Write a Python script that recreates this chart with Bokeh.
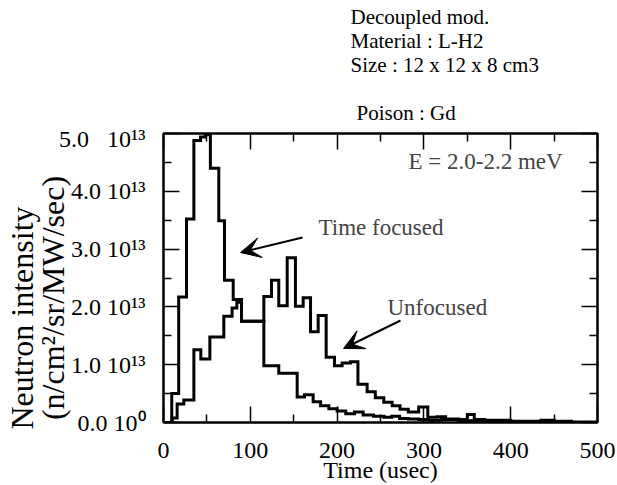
import math
from bokeh.plotting import figure
from bokeh.layouts import column
from bokeh.models import (Range1d, FixedTicker, LinearAxis, Label, Arrow, VeeHead,
                          CustomJSTickFormatter)
from bokeh.embed import file_html
from bokeh.resources import INLINE

# ---------------- data (intensity in units of 1e13 n/cm2/sr/MW/sec) ----------------
tf_edges = [0, 9.5, 17.5, 26.5, 35, 42.6, 48, 54, 63.7, 70.3, 80.3, 89.9, 115.6, 132.8,
            154, 162.4, 172.4, 181, 190.5, 200, 210, 220, 230, 242, 254, 263, 272, 282,
            294, 305, 320, 340, 360, 380, 400, 420, 500]
tf_values = [0, 0.50, 2.17, 3.52, 4.88, 4.94, 4.98, 4.40, 3.49, 2.46, 2.13, 1.75, 0.98,
             0.85, 0.44, 0.48, 0.36, 0.29, 0.24, 0.20, 0.15, 0.18, 0.13, 0.11, 0.09, 0.11,
             0.07, 0.06, 0.05, 0.04, 0.05, 0.03, 0.02, 0.02, 0.01, 0.0]

uf_edges = [0, 10, 15.7, 23.4, 35, 43, 53.4, 69.5, 79, 84.5, 89.9, 115.6, 124.4, 132.8,
            142.5, 152, 160.9, 169.4, 178.2, 187.4, 197, 205.8, 215.4, 224, 234.6, 244,
            253.8, 263.4, 272.5, 282, 294, 304.5, 315, 325, 340, 350, 358, 370, 400, 435,
            450, 470, 500]
uf_values = [0, 0.08, 0.32, 0.39, 1.26, 1.10, 1.48, 1.84, 1.98, 2.08, 1.75, 2.18, 2.46,
             2.02, 2.85, 2.01, 2.16, 1.57, 1.85, 1.13, 0.98, 1.03, 1.05, 0.66, 0.53, 0.43,
             0.35, 0.29, 0.23, 0.18, 0.27, 0.09, 0.10, 0.06, 0.05, 0.14, 0.05, 0.04, 0.02,
             0.04, 0.02, 0.01]

x_ticks = [0, 100, 200, 300, 400, 500]
x_tick_labels = ["0", "100", "200", "300", "400", "500"]
y_ticks = [0, 1, 2, 3, 4, 5]
NB = "\u00a0"
y_tick_labels = ["0.0" + NB + "10\u2070",
                 "1.0" + NB + "10\u00b9\u00b3",
                 "2.0" + NB + "10\u00b9\u00b3",
                 "3.0" + NB + "10\u00b9\u00b3",
                 "4.0" + NB + "10\u00b9\u00b3",
                 "5.0" + NB * 3 + "10\u00b9\u00b3"]

header_lines = ["Decoupled mod.", "Material : L-H2", "Size : 12 x 12 x 8 cm3", "Poison : Gd"]
y_title_lines = ["Neutron intensity" + NB * 10, "(n/cm\u00b2/sr/MW/sec)" + NB * 5]

# ---------------- layout ----------------
W, H = 617, 485
HEAD = 125                      # height of the header strip above the chart
FL, FR, FT, FB = 163, 597, 133, 422
XMAX, YMAX = 500, 5
FONT = "Liberation Serif"
header_pos = [(350, 16), (350, 40), (350, 64), (356, 112)]   # pixel anchors


def dx(px):
    return (px - FL) / (FR - FL) * XMAX


def dy(py):
    return (FB - py) / (FB - FT) * YMAX


def step_path(edges, vals):
    xs, ys = [], []
    for i, v in enumerate(vals):
        xs += [edges[i], edges[i + 1]]
        ys += [v, v]
    return xs, ys


# ---------------- header strip (its frame is aligned with the chart frame) ----------------
head = figure(width=W, height=HEAD, x_range=Range1d(FL, FR), y_range=Range1d(HEAD, 0),
              output_backend="svg", toolbar_location=None, title_location=None,
              x_axis_type=None, y_axis_type=None, min_border=0)
head.grid.visible = False
head.outline_line_color = None
head.background_fill_color = "white"
head.border_fill_color = "white"
for t, (px, py) in zip(header_lines, header_pos):
    head.add_layout(Label(x=px, y=py, text=t, text_font=FONT, text_font_size="21px",
                          text_align="left", text_baseline="middle", text_color="black"))

# ---------------- main chart ----------------
p = figure(width=W, height=H - HEAD, x_range=Range1d(0, XMAX), y_range=Range1d(0, YMAX),
           output_backend="svg", toolbar_location=None, title_location=None,
           min_border_left=FL, min_border_right=W - FR,
           min_border_top=FT - HEAD, min_border_bottom=H - FB)
p.grid.visible = False
p.background_fill_color = "white"
p.border_fill_color = "white"
p.outline_line_color = "black"
p.outline_line_width = 2

x_minor = [(a + b) / 2 for a, b in zip(x_ticks[:-1], x_ticks[1:])]
y_minor = [(a + b) / 2 for a, b in zip(y_ticks[:-1], y_ticks[1:])]


def style_axis(ax, size="24px"):
    ax.axis_line_color = "black"
    ax.axis_line_width = 2
    ax.major_tick_in = 16
    ax.major_tick_out = 0
    ax.minor_tick_in = 8
    ax.minor_tick_out = 0
    ax.major_tick_line_width = 1.5
    ax.minor_tick_line_width = 1.5
    ax.major_tick_line_color = "black"
    ax.minor_tick_line_color = "black"
    ax.major_label_text_font = FONT
    ax.major_label_text_font_size = size
    ax.major_label_text_color = "black"
    ax.axis_label_text_font = FONT
    ax.axis_label_text_font_style = "normal"
    ax.axis_label_text_color = "black"


xa = p.xaxis[0]
xa.ticker = FixedTicker(ticks=x_ticks, minor_ticks=x_minor)
xa.major_label_overrides = {t: l for t, l in zip(x_ticks, x_tick_labels)}
style_axis(xa)
xa.major_label_standoff = 20
xa.axis_label = "Time (usec)"
xa.axis_label_text_font_size = "24px"
xa.axis_label_text_line_height = 0.8
xa.axis_label_standoff = -4

ya = p.yaxis[0]
ya.ticker = FixedTicker(ticks=y_ticks, minor_ticks=y_minor)
ya.major_label_overrides = {t: l for t, l in zip(y_ticks, y_tick_labels)}
style_axis(ya)
ya.major_label_standoff = 18
ya.axis_label = "\n".join(y_title_lines)
ya.axis_label_text_font_size = "32px"
ya.axis_label_text_line_height = 0.875
ya.axis_label_standoff = -15

blank = CustomJSTickFormatter(code="return '';")
top = LinearAxis(ticker=FixedTicker(ticks=x_ticks, minor_ticks=x_minor), formatter=blank)
style_axis(top, "1px")
top.major_label_standoff = 0
p.add_layout(top, "above")
right = LinearAxis(ticker=FixedTicker(ticks=y_ticks, minor_ticks=y_minor), formatter=blank)
style_axis(right, "1px")
right.major_label_standoff = 0
p.add_layout(right, "right")

# ---------------- curves ----------------
xs, ys = step_path(tf_edges, tf_values)
p.line(xs, ys, line_width=3, color="black", line_join="miter")
xs, ys = step_path(uf_edges, uf_values)
p.line(xs, ys, line_width=3, color="black", line_join="miter")

# ---------------- texts inside the frame ----------------
p.add_layout(Label(x=dx(408), y=dy(161), text="E = 2.0-2.2 meV", text_font=FONT,
                   text_font_size="23px", text_align="left", text_baseline="middle"))
p.add_layout(Label(x=dx(318), y=dy(227), text="Time focused", text_font=FONT,
                   text_font_size="23px", text_align="left", text_baseline="middle"))
p.add_layout(Label(x=dx(387), y=dy(307), text="Unfocused", text_font=FONT,
                   text_font_size="23px", text_align="left", text_baseline="middle"))

# ---------------- arrows ----------------
p.add_layout(Arrow(end=VeeHead(size=20, fill_color="black", line_color="black"),
                   x_start=dx(302), y_start=dy(237), x_end=dx(240), y_end=dy(252),
                   line_width=2, line_color="black"))
p.add_layout(Arrow(end=VeeHead(size=20, fill_color="black", line_color="black"),
                   x_start=dx(400), y_start=dy(320), x_end=dx(343), y_end=dy(348),
                   line_width=2, line_color="black"))

layout = column(head, p, spacing=0)
open("out.html", "w").write(file_html(layout, INLINE))
